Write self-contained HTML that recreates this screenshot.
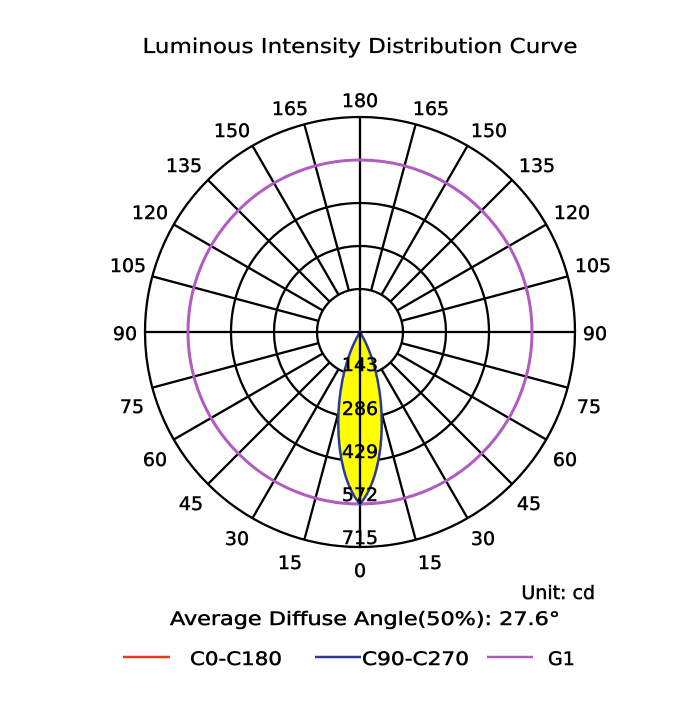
<!DOCTYPE html>
<html><head><style>body{margin:0;background:#fff}</style></head><body>
<svg width="700" height="700" xmlns="http://www.w3.org/2000/svg" font-family="DejaVu Sans, sans-serif">
<rect width="700" height="700" fill="#fff"/>
<text x="360" y="53" font-size="20" text-anchor="middle" textLength="435" lengthAdjust="spacingAndGlyphs" stroke="#000" stroke-width="0.3">Luminous Intensity Distribution Curve</text>
<g fill="none" stroke="#000" stroke-width="2.3">
<circle cx="360" cy="332" r="43"/><circle cx="360" cy="332" r="86"/><circle cx="360" cy="332" r="129"/><circle cx="360" cy="332" r="172"/><circle cx="360" cy="332" r="215"/>
<line x1="145" y1="332" x2="575" y2="332"/><line x1="360" y1="117" x2="360" y2="547"/>
<g id="r">
<line x1="360" y1="375" x2="360" y2="547" transform="rotate(15 360 332)"/>
<line x1="360" y1="375" x2="360" y2="547" transform="rotate(30 360 332)"/>
<line x1="360" y1="375" x2="360" y2="547" transform="rotate(45 360 332)"/>
<line x1="360" y1="375" x2="360" y2="547" transform="rotate(60 360 332)"/>
<line x1="360" y1="375" x2="360" y2="547" transform="rotate(75 360 332)"/>
<line x1="360" y1="375" x2="360" y2="547" transform="rotate(105 360 332)"/>
<line x1="360" y1="375" x2="360" y2="547" transform="rotate(120 360 332)"/>
<line x1="360" y1="375" x2="360" y2="547" transform="rotate(135 360 332)"/>
<line x1="360" y1="375" x2="360" y2="547" transform="rotate(150 360 332)"/>
<line x1="360" y1="375" x2="360" y2="547" transform="rotate(165 360 332)"/>
</g>
<use href="#r" transform="matrix(-1 0 0 1 720 0)"/>
</g>
<circle cx="360" cy="332" r="172" fill="none" stroke="#b05cc0" stroke-width="3"/>
<path d="M360,332 C389,380 389,470 360,504 C331,470 331,380 360,332Z" fill="#ffff00" stroke="#2a3a9a" stroke-width="2.5"/>
<line x1="360" y1="332" x2="360" y2="504" stroke="#000" stroke-width="2.3"/>
<g font-size="19" text-anchor="middle" stroke="#000" stroke-width="0.5">
<text x="360" y="371">143</text><text x="360" y="415">286</text><text x="360" y="458">429</text><text x="360" y="501">572</text><text x="360" y="544">715</text>
<text x="360" y="577">0</text><text x="290" y="569">15</text><text x="430" y="569">15</text>
<text x="237" y="545">30</text><text x="483" y="545">30</text>
<text x="191" y="510">45</text><text x="529" y="510">45</text>
<text x="155" y="466">60</text><text x="565" y="466">60</text>
<text x="132" y="413">75</text><text x="589" y="413">75</text>
<text x="125" y="340">90</text><text x="595" y="340">90</text>
<text x="128" y="272">105</text><text x="593" y="272">105</text>
<text x="150" y="219">120</text><text x="572" y="219">120</text>
<text x="184" y="172">135</text><text x="537" y="172">135</text>
<text x="232" y="137">150</text><text x="489" y="137">150</text>
<text x="290" y="115">165</text><text x="431" y="115">165</text>
<text x="360" y="107">180</text>
</g>
<g font-size="19" stroke="#000" stroke-width="0.5">
<text x="595" y="599" text-anchor="end">Unit: cd</text>
<text x="365" y="625" text-anchor="middle" textLength="390" lengthAdjust="spacingAndGlyphs">Average Diffuse Angle(50%): 27.6°</text>
<text x="190" y="665" textLength="92" lengthAdjust="spacingAndGlyphs">C0-C180</text>
<text x="362" y="665" textLength="107" lengthAdjust="spacingAndGlyphs">C90-C270</text>
<text x="548" y="665">G1</text>
</g>
<line x1="123" y1="657" x2="170" y2="657" stroke="#f03a17" stroke-width="2.5"/>
<line x1="315" y1="657" x2="361" y2="657" stroke="#2a3a9a" stroke-width="2.5"/>
<line x1="487" y1="657" x2="533" y2="657" stroke="#b05cc0" stroke-width="2.5"/>
</svg>
</body></html>
